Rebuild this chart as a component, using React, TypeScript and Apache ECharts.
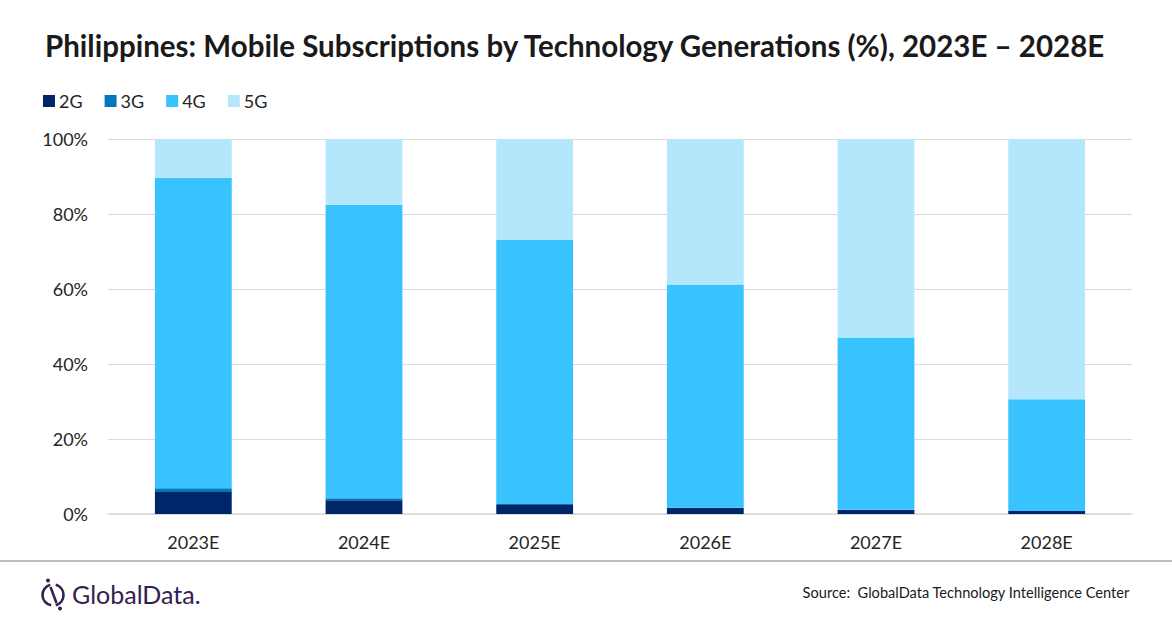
import React, { useEffect, useRef } from "react";
import * as echarts from "echarts";

const years = ["2023E", "2024E", "2025E", "2026E", "2027E", "2028E"];
const g2 = [5.9, 3.7, 2.6, 1.6, 1.1, 0.8];
const g3 = [1.0, 0.5, 0.1, 0.05, 0.03, 0.02];
const g4 = [82.8, 78.3, 70.4, 59.55, 45.97, 29.78];
const g5 = [10.3, 17.5, 26.9, 38.8, 52.9, 69.4];
const yTicks = [0, 20, 40, 60, 80, 100];

const FONT = "Lato, 'Open Sans', sans-serif";
const LOGO = "#34204f";

const App: React.FC = () => {
    const chartRef = useRef<HTMLDivElement>(null);

    useEffect(() => {
        const chart = echarts.init(chartRef.current!, undefined, { renderer: "svg" });

        const bar = (name: string, data: number[], color: string) => ({
            name,
            type: "bar",
            stack: "total",
            barWidth: "45%",
            data,
            itemStyle: { color },
        });

        chart.setOption({
            animation: false,
            backgroundColor: "#ffffff",
            textStyle: { fontFamily: FONT },
            title: {
                text: "Philippines: Mobile Subscriptions by Technology Generations (%), 2023E \u2013 2028E",
                left: 40,
                top: 25,
                textStyle: { fontFamily: FONT, fontSize: 29.5, fontWeight: "bold", color: "#1a1a1a" },
            },
            legend: {
                left: 38,
                top: 87,
                icon: "rect",
                itemWidth: 12,
                itemHeight: 12,
                itemGap: 22,
                textStyle: { fontFamily: FONT, fontSize: 18, color: "#262626", padding: [0, 0, 0, -1] },
                data: ["2G", "3G", "4G", "5G"],
            },
            grid: { left: 108, right: 40, top: 139, bottom: 114, containLabel: false },
            xAxis: {
                type: "category",
                data: years,
                axisTick: { show: false },
                axisLine: { lineStyle: { color: "#d9d9d9", width: 1.5 } },
                axisLabel: { fontFamily: FONT, fontSize: 18, color: "#262626", margin: 19 },
            },
            yAxis: {
                type: "value",
                min: yTicks[0],
                max: yTicks[yTicks.length - 1],
                interval: 20,
                axisLine: { show: false },
                axisTick: { show: false },
                splitLine: { lineStyle: { color: "#d9d9d9", width: 1 } },
                axisLabel: {
                    fontFamily: FONT,
                    fontSize: 18,
                    color: "#262626",
                    margin: 20,
                    formatter: (v: number) => `${v}%`,
                },
            },
            series: [
                bar("2G", g2, "#00266a"),
                bar("3G", g3, "#0079c2"),
                bar("4G", g4, "#38c3ff"),
                bar("5G", g5, "#b4e7fc"),
            ],
            graphic: [
                {
                    type: "line",
                    shape: { x1: 0, y1: 561, x2: 1172, y2: 561 },
                    style: { stroke: "#a6a6a6", lineWidth: 1.5 },
                },
                {
                    type: "arc",
                    shape: { cx: 53, cy: 595, r: 10.5, startAngle: (100 * Math.PI) / 180, endAngle: (255 * Math.PI) / 180, clockwise: true },
                    style: { stroke: LOGO, lineWidth: 2.6, fill: "none" },
                },
                {
                    type: "arc",
                    shape: { cx: 53, cy: 595, r: 10.5, startAngle: (-75 * Math.PI) / 180, endAngle: (75 * Math.PI) / 180, clockwise: true },
                    style: { stroke: LOGO, lineWidth: 2.6, fill: "none" },
                },
                {
                    type: "line",
                    shape: { x1: 50.5, y1: 587, x2: 56.5, y2: 603 },
                    style: { stroke: LOGO, lineWidth: 2.6 },
                },
                { type: "circle", shape: { cx: 48, cy: 580.5, r: 2 }, style: { fill: LOGO } },
                { type: "circle", shape: { cx: 60, cy: 608.5, r: 2 }, style: { fill: LOGO } },
                {
                    type: "text",
                    left: 72,
                    top: 581,
                    style: { text: "GlobalData.", fontFamily: FONT, fontSize: 25, fill: LOGO },
                },
                {
                    type: "text",
                    right: 42,
                    top: 585,
                    style: {
                        text: "Source:  GlobalData Technology Intelligence Center",
                        fontFamily: FONT,
                        fontSize: 14.6,
                        fill: "#1a1a1a",
                    },
                },
            ],
        });

        const resize = () => chart.resize();
        window.addEventListener("resize", resize);
        return () => {
            chart.dispose();
            window.removeEventListener("resize", resize);
        };
    }, []);

    return (
        <div
            ref={chartRef}
            style={{ position: "fixed", left: 0, top: 0, width: "1172px", height: "628px" }}
        />
    );
};

export default App;
